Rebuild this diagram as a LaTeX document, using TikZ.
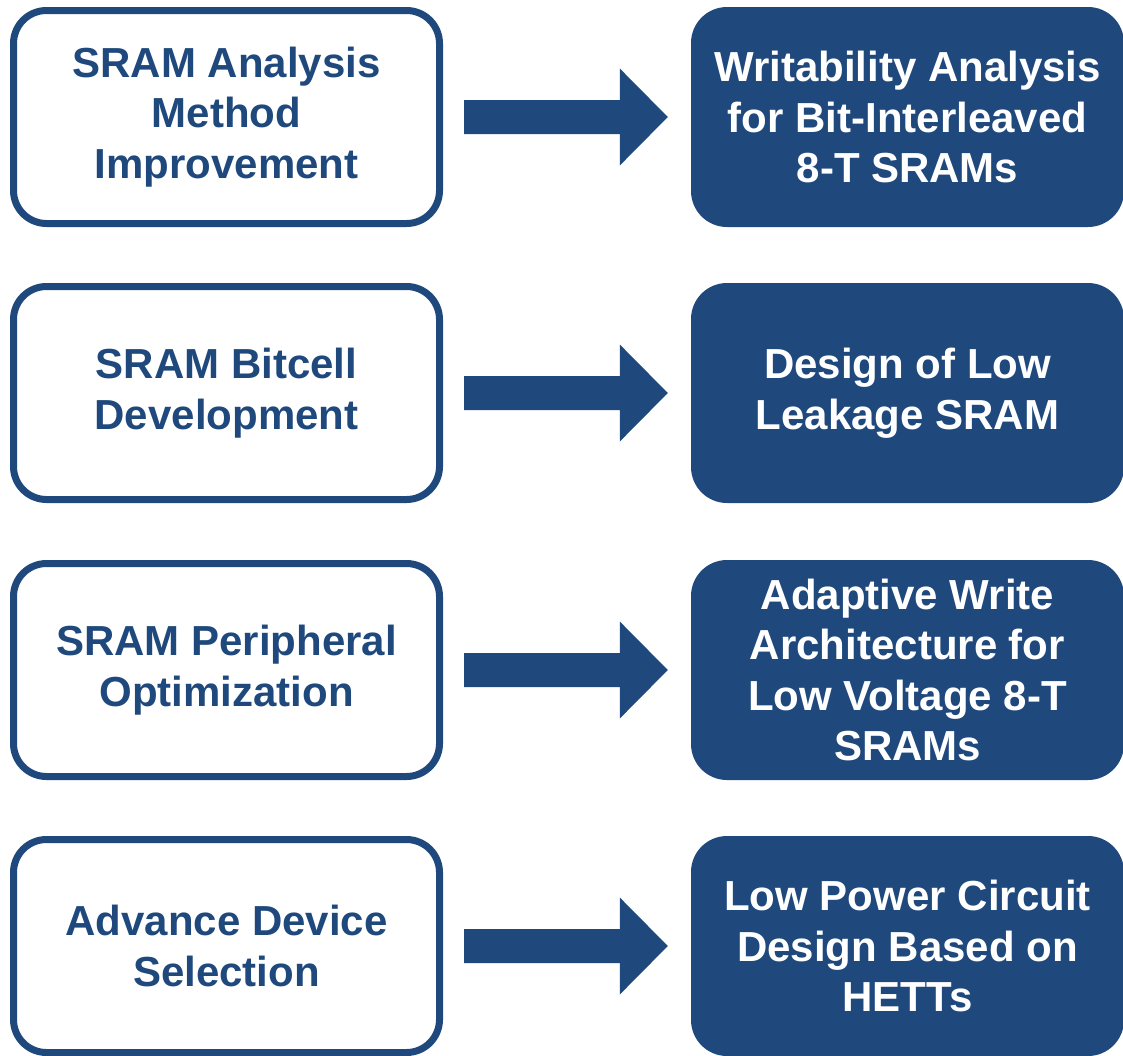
\documentclass[tikz,border=0pt]{standalone}
\usepackage{fontspec}
\setmainfont{Liberation Sans}
\usetikzlibrary{calc}
\definecolor{navy}{RGB}{31,73,125}
\tikzset{
  srcbox/.style={draw=navy, line width=7pt, fill=white, rounded corners=33pt,
    minimum width=426pt, minimum height=213pt, inner sep=0pt,
    align=center, text=navy, font=\bfseries\fontsize{42}{50.5}\selectfont},
  dstbox/.style={fill=navy, draw=none, rounded corners=36pt,
    minimum width=433pt, minimum height=220pt, inner sep=0pt,
    align=center, text=white, font=\bfseries\fontsize{42}{50.5}\selectfont},
  blockarrow/.style={fill=navy, draw=none}
}
\newcommand{\blockarr}[2]{%
  \fill[blockarrow] ($(#1.east)+(21,-17)$) -- ($(#2.west)+(-71,-17)$)
    -- ($(#2.west)+(-71,-48.5)$) -- ($(#2.west)+(-23,0)$)
    -- ($(#2.west)+(-71,48.5)$) -- ($(#2.west)+(-71,17)$)
    -- ($(#1.east)+(21,17)$) -- cycle;}
\begin{document}
\begin{tikzpicture}[x=1pt,y=-1pt]
\useasboundingbox (0,0) rectangle (1123,1055);
\node[srcbox] (s1) at (226.5,117) {SRAM Analysis\\Method\\Improvement};
\node[dstbox] (d1) at (907.5,117) {Writability Analysis\\for Bit-Interleaved\\8-T SRAMs};
\node[srcbox] (s2) at (226.5,393) {SRAM Bitcell\\Development};
\node[dstbox] (d2) at (907.5,393) {Design of Low\\Leakage SRAM};
\node[srcbox] (s3) at (226.5,670) {SRAM Peripheral\\Optimization};
\node[dstbox] (d3) at (907.5,670) {Adaptive Write\\Architecture for\\Low Voltage 8-T\\SRAMs};
\node[srcbox] (s4) at (226.5,946) {Advance Device\\Selection};
\node[dstbox] (d4) at (907.5,946) {Low Power Circuit\\Design Based on\\HETTs};
\blockarr{s1}{d1}
\blockarr{s2}{d2}
\blockarr{s3}{d3}
\blockarr{s4}{d4}
\end{tikzpicture}
\end{document}
